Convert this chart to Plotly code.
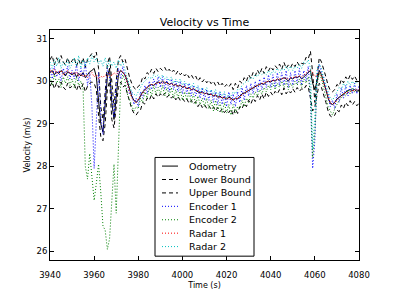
import plotly.graph_objects as go

time = list(range(3940, 4081))

odometry = [
    30.20, 30.25, 30.15, 30.22, 30.18, 30.25, 30.20, 30.12, 30.22, 30.18,
    30.15, 30.20, 30.10, 30.18, 30.12, 30.20, 30.08, 30.15, 30.22, 30.25,
    30.30, 30.10, 29.60, 29.00, 28.80, 29.40, 30.10, 30.30, 29.50, 29.10,
    29.70, 30.15, 30.25, 30.20, 30.15, 30.00, 29.80, 29.65, 29.55, 29.50,
    29.55, 29.65, 29.75, 29.80, 29.85, 29.90, 29.92, 29.90, 29.95, 29.98,
    29.95, 30.00, 29.95, 29.98, 29.92, 29.95, 29.90, 29.92, 29.88, 29.90,
    29.85, 29.88, 29.82, 29.85, 29.80, 29.82, 29.78, 29.75, 29.72, 29.75,
    29.70, 29.72, 29.68, 29.70, 29.65, 29.68, 29.62, 29.65, 29.60, 29.62,
    29.58, 29.62, 29.60, 29.55, 29.60, 29.58, 29.65, 29.70, 29.72, 29.75,
    29.80, 29.82, 29.85, 29.88, 29.90, 29.92, 29.95, 29.92, 29.98, 30.00,
    29.98, 30.02, 30.00, 30.05, 30.02, 30.05, 30.08, 30.05, 30.00, 30.08,
    30.05, 30.10, 30.08, 30.12, 30.05, 30.10, 30.15, 30.20, 30.25, 29.95,
    29.80, 30.00, 30.25, 30.15, 30.00, 29.80, 29.60, 29.48, 29.45, 29.50,
    29.58, 29.62, 29.68, 29.72, 29.75, 29.78, 29.80, 29.78, 29.80, 29.76, 29.78,
]

upper_bound = [
    30.50, 30.60, 30.38, 30.55, 30.42, 30.60, 30.45, 30.38, 30.55, 30.40,
    30.48, 30.55, 30.35, 30.50, 30.38, 30.55, 30.32, 30.50, 30.58, 30.65,
    30.55, 30.68, 30.30, 29.40, 29.10, 29.80, 30.40, 30.58, 29.90, 29.40,
    30.00, 30.50, 30.60, 30.45, 30.52, 30.30, 30.10, 29.95, 29.85, 29.80,
    29.88, 29.92, 30.10, 30.05, 30.20, 30.15, 30.28, 30.18, 30.30, 30.22,
    30.30, 30.25, 30.32, 30.22, 30.28, 30.20, 30.26, 30.16, 30.24, 30.15,
    30.20, 30.12, 30.18, 30.08, 30.15, 30.06, 30.12, 30.00, 30.08, 29.98,
    30.05, 29.96, 30.02, 29.94, 30.00, 29.90, 29.98, 29.88, 29.95, 29.86,
    29.92, 29.86, 29.94, 29.80, 29.95, 29.84, 30.00, 29.95, 30.08, 30.00,
    30.15, 30.06, 30.20, 30.12, 30.26, 30.16, 30.30, 30.18, 30.34, 30.24,
    30.34, 30.26, 30.36, 30.30, 30.40, 30.28, 30.44, 30.30, 30.38, 30.32,
    30.42, 30.34, 30.45, 30.36, 30.42, 30.40, 30.56, 30.52, 30.70, 30.20,
    29.50, 30.10, 30.55, 30.45, 30.30, 30.10, 29.90, 29.78, 29.75, 29.80,
    29.92, 29.88, 30.04, 29.96, 30.10, 30.02, 30.14, 30.04, 30.12, 30.02, 30.08,
]

lower_bound = [
    29.88, 29.98, 29.82, 29.96, 29.85, 29.98, 29.86, 29.80, 29.95, 29.84,
    29.88, 29.92, 29.78, 29.92, 29.80, 29.94, 29.75, 29.88, 29.95, 29.98,
    29.95, 29.80, 29.20, 28.70, 28.60, 29.00, 29.80, 30.00, 29.10, 28.90,
    29.40, 29.85, 29.98, 29.86, 29.90, 29.70, 29.50, 29.35, 29.25, 29.20,
    29.28, 29.32, 29.50, 29.46, 29.60, 29.55, 29.68, 29.58, 29.70, 29.62,
    29.70, 29.64, 29.72, 29.62, 29.68, 29.60, 29.66, 29.56, 29.64, 29.55,
    29.60, 29.52, 29.58, 29.48, 29.55, 29.46, 29.52, 29.40, 29.48, 29.38,
    29.45, 29.36, 29.42, 29.34, 29.40, 29.30, 29.38, 29.28, 29.35, 29.26,
    29.32, 29.26, 29.34, 29.20, 29.35, 29.24, 29.40, 29.35, 29.48, 29.40,
    29.55, 29.46, 29.60, 29.52, 29.66, 29.56, 29.70, 29.58, 29.74, 29.64,
    29.74, 29.66, 29.76, 29.70, 29.80, 29.68, 29.84, 29.70, 29.78, 29.72,
    29.82, 29.74, 29.85, 29.76, 29.82, 29.80, 29.90, 29.86, 29.60, 29.30,
    29.40, 29.70, 29.95, 29.85, 29.70, 29.50, 29.30, 29.18, 29.15, 29.20,
    29.32, 29.28, 29.44, 29.36, 29.50, 29.42, 29.54, 29.44, 29.52, 29.42, 29.48,
]

encoder_1 = [
    30.30, 30.05, 30.35, 30.10, 30.25, 30.00, 30.30, 30.15, 30.35, 30.05,
    30.25, 30.05, 30.40, 30.00, 30.30, 30.10, 30.45, 29.90, 30.20, 29.40,
    27.95, 29.30, 30.20, 29.20, 28.75, 29.60, 30.30, 30.10, 29.60, 29.15,
    29.90, 30.30, 30.05, 30.35, 30.10, 29.95, 29.70, 29.75, 29.45, 29.60,
    29.40, 29.75, 29.60, 29.90, 29.70, 30.00, 29.80, 30.05, 29.85, 30.10,
    29.85, 30.10, 29.80, 30.05, 29.75, 30.05, 29.80, 30.00, 29.75, 30.00,
    29.70, 29.95, 29.70, 29.95, 29.65, 29.90, 29.65, 29.85, 29.60, 29.85,
    29.55, 29.80, 29.55, 29.80, 29.50, 29.75, 29.45, 29.75, 29.45, 29.70,
    29.40, 29.75, 29.45, 29.70, 29.40, 29.75, 29.50, 29.85, 29.55, 29.90,
    29.65, 29.95, 29.70, 30.00, 29.75, 30.05, 29.80, 30.10, 29.85, 30.15,
    29.85, 30.15, 29.85, 30.20, 29.90, 30.20, 29.90, 30.25, 29.85, 30.20,
    29.90, 30.25, 29.95, 30.30, 29.90, 30.25, 30.00, 30.35, 29.60, 27.95,
    28.60, 30.10, 30.40, 30.20, 30.10, 29.80, 29.70, 29.40, 29.55, 29.35,
    29.70, 29.50, 29.85, 29.60, 29.90, 29.65, 29.90, 29.70, 29.95, 29.70, 29.90,
]

encoder_2 = [
    30.10, 29.90, 30.15, 29.95, 30.05, 29.85, 30.10, 29.95, 30.10, 29.90,
    30.05, 29.85, 30.10, 29.90, 30.00, 29.80, 28.00, 27.70, 28.30, 27.80,
    27.20, 27.60, 28.05, 27.40, 26.60, 26.50, 26.05, 26.30, 27.20, 28.05,
    26.90, 28.60, 29.90, 30.15, 30.00, 29.70, 29.55, 29.40, 29.30, 29.40,
    29.35, 29.60, 29.50, 29.75, 29.60, 29.85, 29.65, 29.90, 29.70, 29.85,
    29.70, 29.90, 29.65, 29.85, 29.65, 29.85, 29.60, 29.80, 29.60, 29.80,
    29.55, 29.75, 29.55, 29.75, 29.50, 29.70, 29.45, 29.65, 29.45, 29.60,
    29.40, 29.60, 29.35, 29.55, 29.30, 29.55, 29.30, 29.50, 29.25, 29.50,
    29.25, 29.45, 29.20, 29.45, 29.25, 29.40, 29.35, 29.55, 29.40, 29.60,
    29.50, 29.70, 29.60, 29.75, 29.65, 29.80, 29.70, 29.85, 29.75, 29.90,
    29.80, 29.95, 29.80, 29.95, 29.85, 30.00, 29.85, 30.00, 29.80, 29.95,
    29.85, 30.00, 29.90, 30.05, 29.85, 30.05, 29.95, 30.10, 29.70, 28.20,
    28.80, 29.90, 30.20, 30.05, 29.85, 29.60, 29.40, 29.30, 29.20, 29.35,
    29.45, 29.55, 29.60, 29.70, 29.65, 29.80, 29.70, 29.85, 29.75, 29.80, 29.75,
]

radar_1 = [
    30.25, 30.20, 30.28, 30.18, 30.22, 30.25, 30.15, 30.20, 30.25, 30.18,
    30.20, 30.15, 30.22, 30.12, 30.18, 30.10, 30.15, 30.08, 30.15, 30.20,
    30.10, 30.15, 30.05, 30.12, 30.08, 30.15, 30.10, 30.18, 30.12, 30.20,
    30.15, 30.22, 30.25, 30.20, 30.15, 29.95, 29.75, 29.60, 29.55, 29.50,
    29.58, 29.65, 29.72, 29.80, 29.85, 29.88, 29.92, 29.90, 29.95, 29.95,
    29.98, 29.95, 29.98, 29.95, 29.92, 29.95, 29.90, 29.92, 29.88, 29.90,
    29.88, 29.85, 29.85, 29.82, 29.80, 29.82, 29.78, 29.76, 29.75, 29.72,
    29.72, 29.70, 29.70, 29.68, 29.66, 29.66, 29.64, 29.62, 29.62, 29.60,
    29.60, 29.58, 29.58, 29.56, 29.58, 29.60, 29.64, 29.68, 29.72, 29.76,
    29.80, 29.82, 29.85, 29.88, 29.90, 29.92, 29.94, 29.95, 29.98, 30.00,
    30.00, 30.02, 30.02, 30.04, 30.05, 30.06, 30.06, 30.08, 30.05, 30.08,
    30.08, 30.10, 30.10, 30.12, 30.10, 30.14, 30.18, 30.22, 30.28, 30.20,
    30.10, 30.15, 30.20, 30.10, 29.95, 29.75, 29.60, 29.50, 29.45, 29.48,
    29.55, 29.60, 29.65, 29.70, 29.72, 29.75, 29.76, 29.78, 29.78, 29.80, 29.80,
]

radar_2 = [
    30.45, 30.30, 30.50, 30.35, 30.55, 30.30, 30.45, 30.35, 30.50, 30.30,
    30.40, 30.55, 30.35, 30.60, 30.30, 30.50, 30.35, 30.55, 30.40, 30.60,
    30.45, 30.55, 30.40, 30.50, 30.35, 30.55, 30.30, 30.50, 30.35, 30.45,
    30.30, 30.50, 30.35, 30.45, 30.25, 30.10, 29.90, 29.75, 29.70, 29.65,
    29.75, 29.85, 29.95, 30.00, 30.05, 30.10, 30.05, 30.15, 30.10, 30.15,
    30.05, 30.15, 30.05, 30.10, 30.00, 30.10, 29.95, 30.05, 29.95, 30.05,
    29.90, 30.00, 29.90, 29.95, 29.85, 29.95, 29.80, 29.90, 29.75, 29.85,
    29.75, 29.85, 29.70, 29.80, 29.70, 29.80, 29.65, 29.75, 29.65, 29.75,
    29.60, 29.70, 29.65, 29.75, 29.70, 29.80, 29.80, 29.90, 29.95, 30.00,
    30.00, 30.10, 30.05, 30.15, 30.10, 30.20, 30.15, 30.20, 30.15, 30.25,
    30.15, 30.25, 30.20, 30.30, 30.20, 30.30, 30.25, 30.35, 30.25, 30.35,
    30.25, 30.35, 30.30, 30.40, 30.30, 30.45, 30.40, 30.50, 30.30, 28.40,
    29.20, 30.30, 30.40, 30.30, 30.05, 29.90, 29.70, 29.60, 29.55, 29.65,
    29.75, 29.85, 29.80, 29.95, 29.85, 30.00, 29.90, 30.00, 29.90, 30.00, 29.95,
]

x_ticks = [3940, 3960, 3980, 4000, 4020, 4040, 4060, 4080]
y_ticks = [26, 27, 28, 29, 30, 31]

series = [
    ("Odometry", odometry, "#000000", "solid"),
    ("Lower Bound", lower_bound, "#000000", "4px,3px"),
    ("Upper Bound", upper_bound, "#000000", "4px,3px"),
    ("Encoder 1", encoder_1, "#0000ff", "1px,2px"),
    ("Encoder 2", encoder_2, "#008000", "1px,2px"),
    ("Radar 1", radar_1, "#ff0000", "1px,2px"),
    ("Radar 2", radar_2, "#00bfbf", "1px,2px"),
]

W, H = 399, 301
ML, MR, MT, MB = 50, 40, 30, 31
PW, PH = W - ML - MR, H - MT - MB

def px_x(px):
    return (px - ML) / PW

def px_y(py):
    return (H - MB - py) / PH

font = "DejaVu Sans"
fig = go.Figure()
for name, vals, color, dash in series:
    fig.add_trace(go.Scatter(x=time, y=vals, mode="lines", name=name,
                             line=dict(color=color, width=1, dash=dash),
                             showlegend=False))

# legend box drawn as shapes/annotations (matplotlib-style compact legend)
shapes = [dict(type="rect", xref="paper", yref="paper",
               x0=px_x(155), x1=px_x(254), y0=px_y(266), y1=px_y(163),
               line=dict(color="#000000", width=1), fillcolor="white", layer="above")]
annotations = []
row0, row_gap = 172, 14
for i, (name, vals, color, dash) in enumerate(series):
    py = row0 + i * row_gap
    shapes.append(dict(type="line", xref="paper", yref="paper",
                       x0=px_x(162), x1=px_x(178), y0=px_y(py), y1=px_y(py),
                       line=dict(color=color, width=1, dash=dash), layer="above"))
    annotations.append(dict(text=name, xref="paper", yref="paper",
                            x=px_x(187), y=px_y(py), xanchor="left", yanchor="middle",
                            showarrow=False,
                            font=dict(family=font, size=9.5, color="#000000")))

axis_common = dict(showline=True, linecolor="#000000", linewidth=1, mirror="ticks",
                   ticks="inside", ticklen=4, tickcolor="#000000", showgrid=False,
                   zeroline=False, tickfont=dict(family=font, size=8.5, color="#000000"))

fig.update_layout(
    width=W, height=H,
    margin=dict(l=ML, r=MR, t=MT, b=MB),
    paper_bgcolor="white", plot_bgcolor="white",
    font=dict(family=font, color="#000000"),
    title=dict(text="Velocity vs Time", x=0.5, xref="paper", xanchor="center",
               y=1 - 22 / H, yref="container", yanchor="middle",
               font=dict(family=font, size=11, color="#000000")),
    xaxis=dict(range=[3940, 4080], tickvals=x_ticks, ticklabelstandoff=7,
               title=dict(text="Time (s)", font=dict(family=font, size=8), standoff=3),
               **axis_common),
    yaxis=dict(range=[25.8, 31.2], tickvals=y_ticks,
               title=dict(text="Velocity (m/s)", font=dict(family=font, size=8), standoff=4),
               **axis_common),
    shapes=shapes,
    annotations=annotations,
    showlegend=False,
)

fig.write_html("out.html", config={"displayModeBar": False},
               post_script="document.body.style.margin='0px';")
